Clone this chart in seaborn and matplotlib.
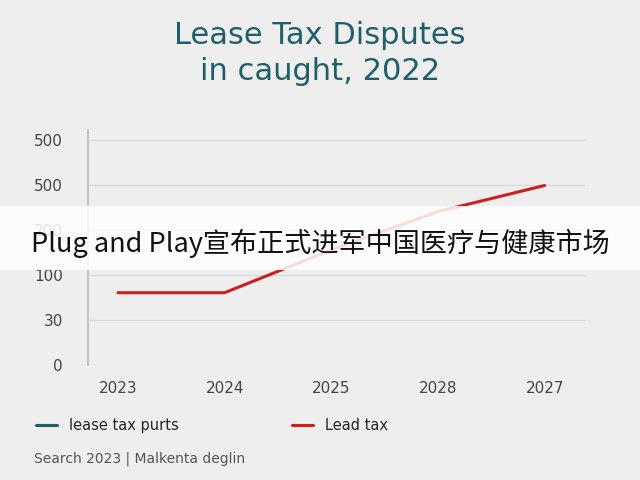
import matplotlib
matplotlib.use("Agg")
import matplotlib.pyplot as plt
import seaborn as sns
import pandas as pd
from matplotlib.lines import Line2D

years = ["2023", "2024", "2025", "2028", "2027"]
lead_tax = [1.6, 1.6, 2.55, 3.4, 3.98]
ytick_labels = ["0", "30", "100", "200", "500", "500"]

sns.set_theme(style="white")
plt.rcParams['font.family'] = ['DejaVu Sans']

fig = plt.figure(figsize=(6.4, 4.8), dpi=100)
fig.patch.set_facecolor("#eeeeee")
ax = fig.add_axes([0.1375, 0.24, 0.776, 0.49])
ax.set_facecolor("#eeeeee")

df = pd.DataFrame({"x": range(len(years)), "y": lead_tax})
sns.lineplot(data=df, x="x", y="y", ax=ax, color="#cc1f1f", linewidth=2.2)

ax.set_xlim(-0.281, 4.375)
ax.set_ylim(0, 5.22)
ax.set_xticks(range(len(years)))
ax.set_xticklabels(years, fontsize=11, color="#444444")
ax.set_yticks(range(len(ytick_labels)))
ax.set_yticklabels(ytick_labels, fontsize=11, color="#444444")
ax.set_xlabel(""); ax.set_ylabel("")
ax.grid(axis="y", color="#d8d8d8", linewidth=0.8)
for s in ["top", "right", "bottom"]:
    ax.spines[s].set_visible(False)
ax.spines["left"].set_color("#bbbbbb")
ax.tick_params(axis="x", length=0, pad=12)
ax.tick_params(axis="y", length=0, pad=18)

fig.text(0.5, 0.927, "Lease Tax Disputes", ha="center", va="center", fontsize=22, color="#1f5f6a")
fig.text(0.5, 0.85, "in caught, 2022", ha="center", va="center", fontsize=22, color="#1f5f6a")

handles = [Line2D([0], [0], color="#1f5f6a", lw=2.2), Line2D([0], [0], color="#cc1f1f", lw=2.2)]
fig.legend(handles[:1], ["lease tax purts"], loc="center left", bbox_to_anchor=(0.035, 0.113),
           frameon=False, fontsize=10.5, handlelength=1.5)
fig.legend(handles[1:], ["Lead tax"], loc="center left", bbox_to_anchor=(0.435, 0.113),
           frameon=False, fontsize=10.5, handlelength=1.5)
fig.text(0.053, 0.045, "Search 2023 | Malkenta deglin", fontsize=10, color="#555555", va="center")

fig.patches.append(plt.Rectangle((0, 0.437), 1, 0.133, transform=fig.transFigure,
                                 facecolor="white", alpha=0.85, edgecolor="none", zorder=5))
fig.text(0.5, 0.493, "Plug and Play宣布正式进军中国医疗与健康市场", ha="center", va="center",
         fontsize=19.5, color="#111111", family=["Noto Sans CJK SC", "DejaVu Sans"], zorder=6)

fig.savefig("out.png", dpi=100, facecolor=fig.get_facecolor())
